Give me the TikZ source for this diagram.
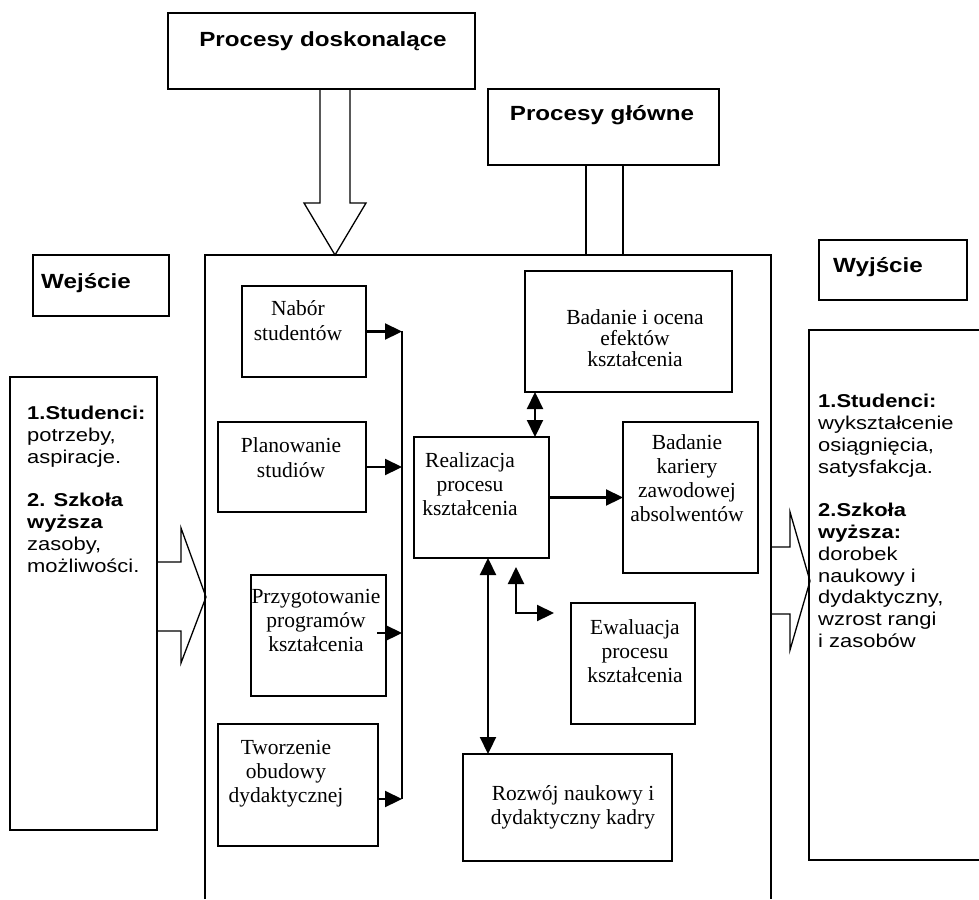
\documentclass[tikz,border=0pt]{standalone}
\usepackage{fontspec}
\setmainfont{Liberation Serif}
\newfontfamily\widesans{Liberation Sans}[FakeStretch=1.18]
\usetikzlibrary{arrows.meta,calc}

\tikzset{
  x=1pt, y=-1pt,
  box/.style={draw, line width=1.3pt, inner sep=0pt, outer sep=0pt, anchor=north west},
  frame/.style={draw, line width=1.3pt},
  hollow/.style={draw, line width=1.3pt, line join=miter},
  conn/.style={line width=2.2pt},
  tip/.tip={Triangle[length=17pt,width=16pt]},
  arr/.style={conn, -tip},
  darr/.style={conn, tip-tip},
  heading/.style={font=\widesans\bfseries\fontsize{20.5}{22}\selectfont, inner sep=0pt, anchor=north},
  sanstext/.style={font=\widesans\fontsize{18.6}{21.8}\selectfont, inner sep=0pt, align=left, anchor=north west},
  sertext/.style={font=\fontsize{21.5}{24}\selectfont, inner sep=0pt, align=center, anchor=north},
}

% box: name, left, top, width, height
\newcommand\procbox[5]{\node[box, minimum width=#4pt, minimum height=#5pt] (#1) at (#2,#3) {};}

\begin{document}
\begin{tikzpicture}
\fill[white] (0,0) rectangle (979,899);
\useasboundingbox (0,0) rectangle (979,899);

% ---- upper process boxes
\procbox{doskon}{168}{13}{307}{76}
\node[heading] (doskonT) at (323,31) {Procesy doskonalące};
\procbox{glowne}{488}{89}{231}{76}
\node[heading] (glowneT) at (602,105) {Procesy główne};

% ---- central frame, open at the bottom
\draw[frame] (205,899) -- (205,255) -- (771,255) -- (771,899);

% hollow arrow from the improvement processes
\draw[hollow] (320,89) -- (320,203) -- (304,203) -- (335,255) -- (366,203) -- (350,203) -- (350,89);
% band linking the main processes with the frame
\draw[frame] (586,165) -- (586,255);
\draw[frame] (623,165) -- (623,255);

% ---- input side
\procbox{wej}{33}{255}{136}{61}
\node[heading, anchor=north west] (wejT) at (41,273) {Wejście};
\procbox{inbox}{10}{377}{147}{453}
\node[sanstext] (inT) at (27,406) {\textbf{1.Studenci:}\\potrzeby,\\aspiracje.\\[21.8pt]\textbf{2. Szkoła}\\\textbf{wyższa}\\zasoby,\\możliwości.};
\draw[hollow] (157,562) -- (181,562) -- (181,528) -- (206,597) -- (181,663) -- (181,631) -- (157,631);

% ---- output side
\procbox{wyj}{819}{240}{148}{60}
\node[heading, anchor=north west] (wyjT) at (833,257) {Wyjście};
\draw[frame] (979,330) -- (809,330) -- (809,860) -- (979,860);
\node[sanstext] (outT) at (818,394) {\textbf{1.Studenci:}\\wykształcenie\\osiągnięcia,\\satysfakcja.\\[21.8pt]\textbf{2.Szkoła}\\\textbf{wyższa:}\\dorobek\\naukowy i\\dydaktyczny,\\wzrost rangi\\i zasobów};
\draw[hollow] (771,547) -- (790,547) -- (790,512) -- (810,581) -- (790,650) -- (790,614) -- (771,614);

% ---- preparatory processes (left column)
\procbox{nabor}{242}{286}{124}{91}
\node[sertext] (naborT) at (298,300) {Nabór\\[1pt]studentów};
\procbox{plan}{218}{422}{148}{90}
\node[sertext] (planT) at (291,437) {Planowanie\\[1pt]studiów};
\procbox{przy}{251}{575}{135}{121}
\node[sertext] (przyT) at (316,589) {Przygotowanie\\programów\\kształcenia};
\procbox{two}{218}{724}{160}{122}
\node[sertext] (twoT) at (286,740) {Tworzenie\\obudowy\\dydaktycznej};

% collector line and the arrows feeding it
\coordinate (colTop) at (402,331);
\coordinate (colBot) at (402,799);
\coordinate (przyOut) at (377,633);
\draw[conn] (colTop) -- (colBot);
\draw[arr] (nabor.east) -- (nabor.east -| colTop);
\draw[arr] (plan.east) -- (plan.east -| colTop);
\draw[arr] (przyOut) -- (przyOut -| colTop);
\draw[arr] (two.east |- colBot) -- (colBot);

% ---- core processes
\procbox{ocena}{525}{271}{207}{121}
\node[sertext, font=\fontsize{21.5}{21}\selectfont] (ocenaT) at (635,309) {Badanie i ocena\\efektów\\kształcenia};
\procbox{real}{414}{437}{135}{121}
\node[sertext] (realT) at (470,452) {Realizacja\\procesu\\kształcenia};
\procbox{kar}{623}{422}{135}{151}
\node[sertext] (karT) at (687,434) {Badanie\\kariery\\zawodowej\\absolwentów};
\procbox{ewa}{571}{603}{124}{121}
\node[sertext] (ewaT) at (635,619) {Ewaluacja\\procesu\\kształcenia};
\procbox{roz}{463}{754}{209}{107}
\node[sertext] (rozT) at (573,785) {Rozwój naukowy i\\dydaktyczny kadry};

% connectors between core processes
\draw[darr] ($(real.north west)+(121,0)$) -- ($(ocena.south west)+(10,0)$);
\draw[arr] (real.east) -- (kar.west);
\draw[darr] ($(real.south west)+(74,0)$) -- ($(roz.north west)+(25,0)$);
\coordinate (evalUp) at (516,567);
\coordinate (evalRight) at (554,613);
\draw[darr] (evalUp) |- (evalRight);
\end{tikzpicture}
\end{document}
